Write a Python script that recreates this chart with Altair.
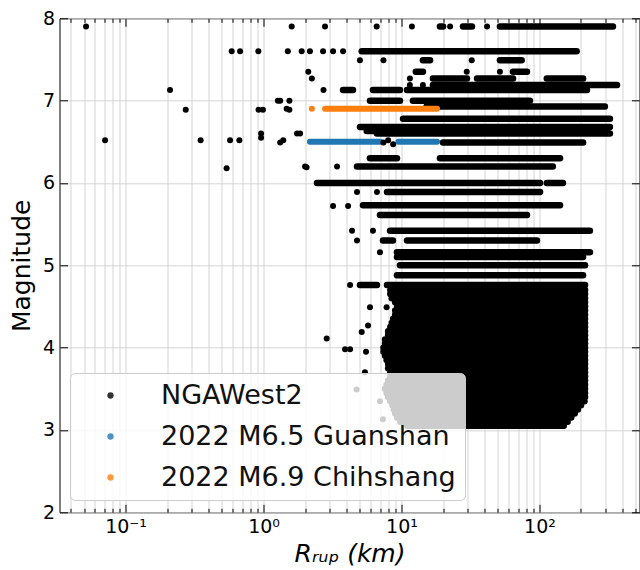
import altair as alt
import pandas as pd

# ---------------- data ----------------
SERIES = ["NGAWest2", "2022 M6.5 Guanshan", "2022 M6.9 Chihshang"]
COLORS = ["#000000", "#1f77b4", "#ff7f0e"]

# NGAWest2: recordings of one event lie on one horizontal row -> (magnitude, Rmin, Rmax)
nga_seg_m = [7.90, 7.90, 7.90, 7.60, 7.49, 7.49, 7.35, 7.35, 7.27, 7.27, 7.27, 7.19,
             7.13, 7.13, 7.13, 7.00, 7.00, 6.93, 6.78, 6.68, 6.63, 6.60, 6.49, 6.30,
             6.30, 6.20, 6.00, 6.00, 5.89, 5.73, 5.61, 5.42, 5.30, 5.30, 5.16, 5.10,
             5.00, 4.88, 4.76, 4.76]
nga_seg_r0 = [51.7, 19.0, 27.9, 5.15, 14.3, 51.7, 12.7, 64.3, 16.9, 35.3, 113, 16.9,
              3.77, 6.21, 10.96, 5.91, 12.1, 15.2, 10.26, 5.0, 5.6, 6.64, 20.0, 5.91,
              19.0, 4.76, 2.44, 113, 7.85, 5.26, 6.98, 8.26, 7.34, 10.96, 9.27, 9.27,
              9.75, 9.27, 5.0, 7.85]
nga_seg_r1 = [341, 20.0, 32.4, 186, 16.1, 74.3, 14.3, 81.2, 29.8, 64.3, 207, 365,
              4.45, 9.75, 221, 9.75, 85.3, 298, 324, 324, 308, 324, 207, 9.27,
              141, 125, 101, 148, 101, 141, 81.2, 232, 8.67, 95.9, 232, 207,
              214, 207, 6.64, 214]

# dense small-magnitude rows (M 3.0 - 4.7)
block_m = [4.70, 4.65, 4.60, 4.55, 4.50, 4.45, 4.40, 4.35, 4.30, 4.25, 4.20, 4.15,
           4.10, 4.05, 4.00, 3.95, 3.90, 3.85, 3.80, 3.75, 3.70, 3.65, 3.60, 3.55,
           3.50, 3.45, 3.40, 3.35, 3.30, 3.25, 3.20, 3.15, 3.10, 3.05]
block_r0 = [8.3, 8.3, 8.5, 9.0, 9.3, 9.0, 9.0, 8.7, 8.5, 8.3, 8.0, 8.0,
            7.6, 7.6, 7.4, 7.4, 7.6, 7.8, 8.0, 8.0, 8.3, 8.3, 8.0, 7.8,
            7.6, 7.8, 8.0, 8.3, 8.6, 8.8, 9.0, 9.3, 9.8, 11.0]
block_r1 = [214, 214, 214, 214, 214, 214, 214, 214, 214, 214, 214, 214,
            214, 214, 214, 214, 214, 214, 214, 214, 214, 214, 214, 214,
            214, 214, 214, 212, 200, 190, 180, 170, 160, 150]

# NGAWest2 isolated recordings
nga_pt_r = [0.0517, 0.071, 0.21, 0.273, 0.35, 0.54, 0.572, 0.588, 0.668, 0.676, 0.917,
            0.92, 0.99, 0.96, 0.96, 1.27, 1.39, 1.54, 1.54, 1.50, 1.60, 1.75, 1.84, 1.89,
            2.17, 2.05, 2.11, 2.24, 2.50, 2.70, 3.19, 3.77, 2.79, 6.61, 11.9, 22.5, 41.7,
            5.0, 7.4, 32.3, 29.7, 51.7, 11.5, 11.5, 14.3, 2.72, 1.32, 1.47, 1.32, 2.0,
            3.41, 4.76, 6.64, 3.19, 4.10, 4.38, 6.21, 4.76, 6.98, 4.24, 5.91, 7.8, 5.72,
            5.15, 2.87, 3.9, 4.24, 5.53, 5.43, 4.73, 6.98, 7.34, 7.4, 8.0, 8.7]
nga_pt_m = [7.90, 6.52, 7.13, 6.89, 6.52, 6.18, 6.52, 7.60, 6.52, 7.60, 7.60,
            6.89, 6.89, 6.60, 6.55, 7.00, 6.52, 7.00, 6.89, 7.60, 7.90, 6.60, 6.60, 7.60,
            7.60, 6.19, 7.35, 7.27, 6.00, 7.60, 7.60, 7.60, 7.90, 7.90, 7.90, 7.90, 7.90,
            7.49, 7.49, 7.49, 7.35, 7.35, 7.27, 7.19, 7.19, 7.13, 7.00, 6.90, 6.49, 6.20,
            6.20, 5.89, 5.89, 5.72, 5.72, 5.42, 5.42, 5.30, 5.16, 4.76, 4.49, 4.49, 4.27,
            4.19, 4.11, 3.98, 3.98, 3.95, 3.70, 3.49, 3.35, 3.13, 6.49, 6.52, 6.47]

# 2022 events: rows of recordings
ev_name = ["2022 M6.5 Guanshan", "2022 M6.5 Guanshan", "2022 M6.9 Chihshang"]
ev_m = [6.50, 6.50, 6.90]
ev_r0 = [2.17, 9.5, 2.79]
ev_r1 = [7.0, 18.1, 18.1]
ev_pt_name = ["2022 M6.9 Chihshang"]
ev_pt_r = [2.24]
ev_pt_m = [6.90]

X_TICKS = [0.04, 0.05, 0.06, 0.07, 0.08, 0.09,
           0.1, 0.2, 0.3, 0.4, 0.5, 0.6, 0.7, 0.8, 0.9,
           1, 2, 3, 4, 5, 6, 7, 8, 9,
           10, 20, 30, 40, 50, 60, 70, 80, 90,
           100, 200, 300, 400, 500]
Y_TICKS = [2, 3, 4, 5, 6, 7, 8]

# ---------------- tables ----------------
seg_df = pd.DataFrame({"m": nga_seg_m + block_m,
                       "r0": nga_seg_r0 + block_r0,
                       "r1": nga_seg_r1 + block_r1})
ev_df = pd.DataFrame({"series": ev_name, "m": ev_m, "r0": ev_r0, "r1": ev_r1})
pt_df = pd.DataFrame({"series": ["NGAWest2"] * len(nga_pt_r) + ev_pt_name,
                      "r": nga_pt_r + ev_pt_r,
                      "m": nga_pt_m + ev_pt_m})

# ---------------- chart ----------------
W, H = 580, 494
FONT = "DejaVu Sans"
xscale = alt.Scale(type="log", domain=[0.0332, 531], nice=False)
yscale = alt.Scale(domain=[2, 8], nice=False, zero=False)
cscale = alt.Scale(domain=SERIES, range=COLORS)

major = "datum.value == 0.1 || datum.value == 1 || datum.value == 10 || datum.value == 100"
xtick_size = {"condition": {"test": major, "value": 8}, "value": 4}
label_expr = ("datum.value == 0.1 ? '10⁻¹' : datum.value == 1 ? '10⁰' : "
              "datum.value == 10 ? '10¹' : datum.value == 100 ? '10²' : ''")

x_main = alt.Axis(values=X_TICKS, grid=True, gridColor="#d4d4d4", gridWidth=1,
                  ticks=False, domain=False, labelExpr=label_expr, labelOverlap=False,
                  labelFlush=False, labelFont=FONT, labelFontSize=19, labelColor="black",
                  labelPadding=5, title="Rᵣᵤₚ (km)", titleFont=FONT, titleFontSize=25,
                  titleFontStyle="italic", titleFontWeight="normal", titleColor="black",
                  titlePadding=5)
y_main = alt.Axis(values=Y_TICKS, grid=True, gridColor="#d4d4d4", gridWidth=1,
                  ticks=False, domain=False, labelFont=FONT, labelFontSize=19,
                  labelColor="black", labelPadding=5, title="Magnitude",
                  titleFont=FONT, titleFontSize=25, titleFontWeight="normal",
                  titleColor="black", titlePadding=8)

def tick_axis_x(orient):
    return alt.Axis(orient=orient, offset=-H, values=X_TICKS, labels=False, domain=False,
                    grid=False, tickSize=xtick_size, tickColor="black", tickWidth=1,
                    title=None)

def tick_axis_y(orient):
    return alt.Axis(orient=orient, offset=-W, values=Y_TICKS, labels=False, domain=False,
                    grid=False, tickSize=8, tickColor="black", tickWidth=1, title=None)

seg_layer = alt.Chart(seg_df).mark_rule(color="black", strokeWidth=6.5, strokeCap="round").encode(
    x=alt.X("r0:Q", scale=xscale, axis=x_main),
    x2="r1:Q",
    y=alt.Y("m:Q", scale=yscale, axis=y_main),
)

ev_layer = alt.Chart(ev_df).mark_rule(strokeWidth=6, strokeCap="round").encode(
    x=alt.X("r0:Q", scale=xscale, axis=tick_axis_x("top")),
    x2="r1:Q",
    y=alt.Y("m:Q", scale=yscale, axis=tick_axis_y("right")),
    color=alt.condition(alt.datum.series == SERIES[1],
                        alt.value(COLORS[1]), alt.value(COLORS[2])),
)

legend = alt.Legend(orient="none", legendX=10.5, legendY=354.7, title=None,
                    labelFont=FONT, labelFontSize=27, labelColor="#111111", labelLimit=500,
                    symbolType="circle", symbolSize=40, symbolOffset=18, labelOffset=37,
                    symbolStrokeWidth=0, symbolOpacity=0.8,
                    padding=9, rowPadding=13, fillColor="rgba(255,255,255,0.8)",
                    strokeColor="#cccccc", cornerRadius=5)

pt_layer = alt.Chart(pt_df).mark_circle(size=36, opacity=1).encode(
    x=alt.X("r:Q", scale=xscale, axis=tick_axis_x("bottom")),
    y=alt.Y("m:Q", scale=yscale, axis=tick_axis_y("left")),
    color=alt.Color("series:N", scale=cscale, legend=legend),
)

chart = alt.layer(seg_layer, ev_layer, pt_layer).resolve_axis(
    x="independent", y="independent"
).properties(
    width=W, height=H,
    padding={"left": 59.5, "top": 18.3, "right": 0.5, "bottom": 57.7},
    autosize=alt.AutoSizeParams(type="none"),
    background="white",
).configure_view(stroke="black", strokeWidth=1)

chart.save("out.html", embed_options={"renderer": "svg", "actions": False})
